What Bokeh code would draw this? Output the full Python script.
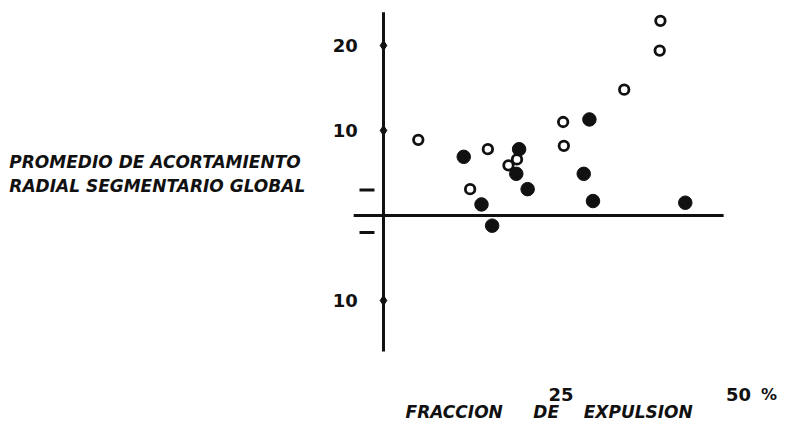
from bokeh.plotting import figure
from bokeh.models import Range1d
from bokeh.embed import file_html
from bokeh.resources import INLINE
from bokeh.core.properties import value

# ---- data (x: fraccion de expulsion %, y: promedio de acortamiento) ----
open_x = [4.9, 14.7, 12.2, 17.6, 18.8, 25.3, 25.4, 33.9, 39.0, 38.9]
open_y = [8.9, 7.8, 3.1, 5.9, 6.6, 11.0, 8.2, 14.8, 22.9, 19.4]
filled_x = [11.3, 13.8, 15.3, 19.1, 18.7, 20.3, 28.2, 29.5, 29.0, 42.5]
filled_y = [6.9, 1.3, -1.2, 7.8, 4.9, 3.1, 4.9, 1.7, 11.3, 1.5]

y_ticks = [20, 10, -10]
y_tick_labels = ["20", "10", "10"]
x_ticks = [25, 50]
x_tick_labels = ["25", "50"]
sign_marks = [3, -2]
y_title = ["PROMEDIO DE ACORTAMIENTO", "RADIAL SEGMENTARIO GLOBAL"]
x_title = ["FRACCION", "DE", "EXPULSION"]

INK = "#111111"
FONT = value("DejaVu Sans")

p = figure(width=779, height=423, output_backend="svg", toolbar_location=None,
           x_range=Range1d(-53.94, 55.77), y_range=Range1d(-24.47, 25.29),
           min_border=0)
p.xaxis.visible = False
p.yaxis.visible = False
p.xgrid.visible = False
p.ygrid.visible = False
p.outline_line_color = None
p.background_fill_color = "white"
p.border_fill_color = "white"

# hand-drawn axes
p.segment(x0=[0], y0=[-16.0], x1=[0], y1=[23.9], line_color=INK, line_width=3)
p.segment(x0=[-4.2], y0=[0], x1=[47.9], y1=[0], line_color=INK, line_width=3)
p.scatter(x=[0] * len(y_ticks), y=y_ticks, marker="diamond", size=10,
          fill_color=INK, line_color=INK)
# +/- marks
p.segment(x0=[-3.38] * 2, y0=sign_marks, x1=[-1.27] * 2, y1=sign_marks,
          line_color=INK, line_width=3)

# tick labels
p.text(x=[-5.4] * len(y_ticks), y=y_ticks, text=y_tick_labels,
       text_align="center", text_baseline="middle", text_font=FONT,
       text_font_size="18px", text_font_style="bold", text_color=INK)
p.text(x=x_ticks, y=[-21.0] * 2, text=x_tick_labels,
       text_align="center", text_baseline="middle", text_font=FONT,
       text_font_size="18px", text_font_style="bold", text_color=INK)
p.text(x=[54.3], y=[-21.0], text=["%"],
       text_align="center", text_baseline="middle", text_font=FONT,
       text_font_size="16px", text_font_style="bold", text_color=INK)

# axis titles
p.text(x=[-52.7] * 2, y=[6.35, 3.41], text=y_title,
       text_align="left", text_baseline="middle", text_font=FONT,
       text_font_size="17px", text_font_style="bold italic", text_color=INK)
p.text(x=[3.1, 21.1, 28.2], y=[-24.3] * 3, text=x_title,
       text_align="left", text_baseline="bottom", text_font=FONT,
       text_font_size="17px", text_font_style="bold italic", text_color=INK)

# data points
p.scatter(x=open_x, y=open_y, marker="circle", size=9.5,
          fill_color="white", line_color=INK, line_width=2.8)
p.scatter(x=filled_x, y=filled_y, marker="circle", size=13.5,
          fill_color=INK, line_color=INK)

open("out.html", "w").write(file_html(p, INLINE))
